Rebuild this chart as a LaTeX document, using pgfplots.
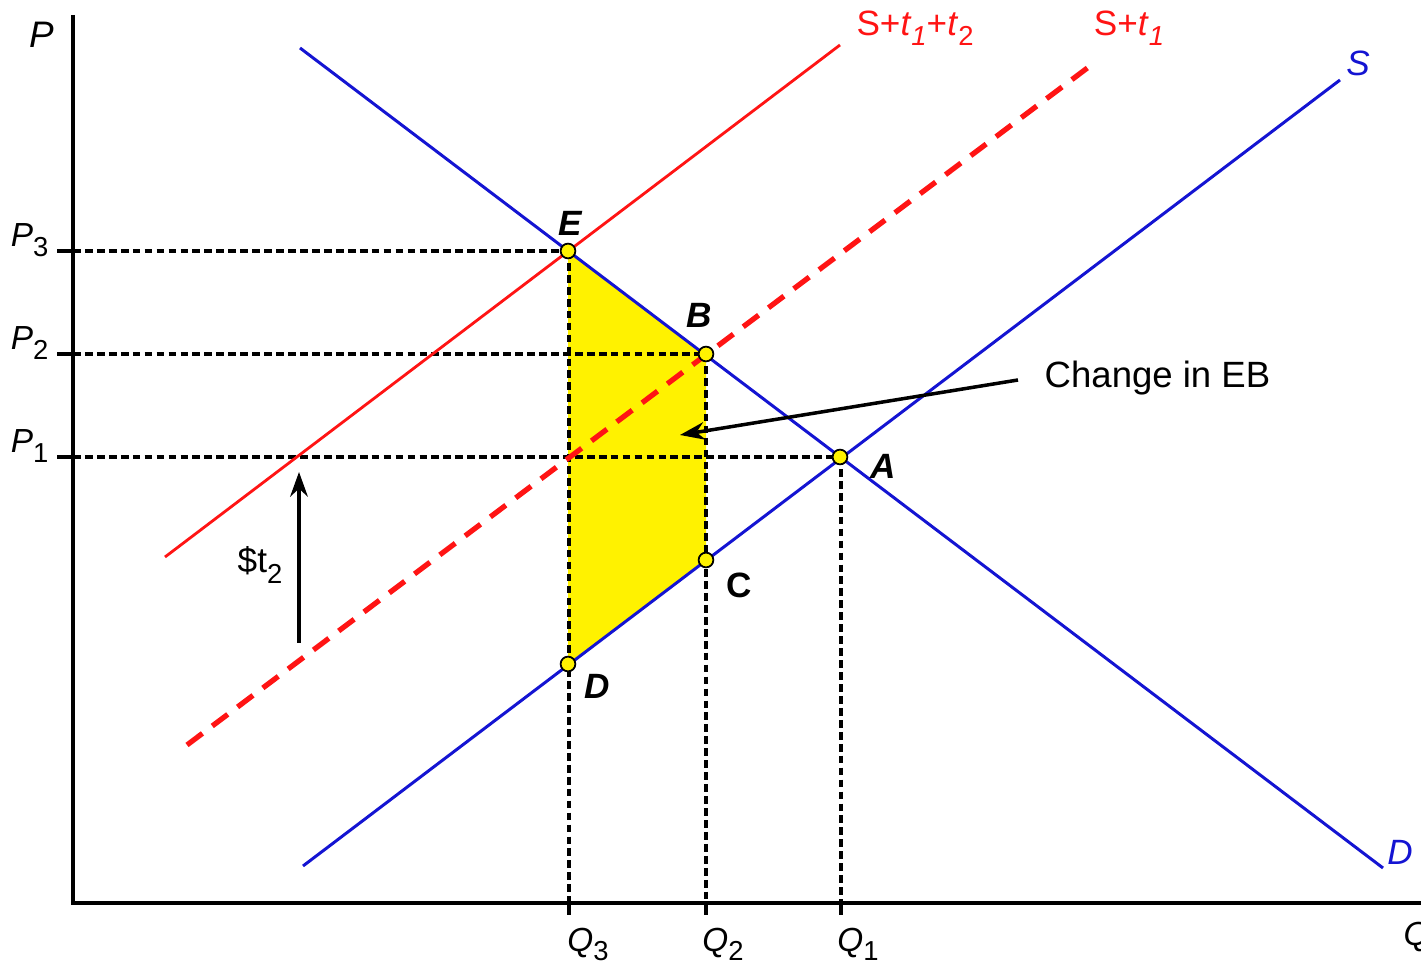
\documentclass[border=0pt]{standalone}
\usepackage{pgfplots}
\pgfplotsset{compat=1.18}
\usepackage{fontspec}
\setmainfont{Liberation Sans}
\setsansfont{Liberation Sans}
\usetikzlibrary{arrows.meta}
\definecolor{curveblue}{RGB}{20,20,210}
\definecolor{curvered}{RGB}{255,20,20}
\newcommand{\sub}[1]{\raisebox{-0.55ex}{\fontsize{7.8}{8}\selectfont #1}}
\tikzset{guide/.style={black, line width=0.9pt, dash pattern=on 2.2pt off 1.2pt}}
\begin{document}
\begin{tikzpicture}
\begin{axis}[
  scale only axis, width=14.21cm, height=9.67cm,
  xmin=0, xmax=1421, ymin=0, ymax=967,
  hide axis, clip=false,
]
% welfare loss area E-B-C-D
\addplot[fill=yellow, draw=none] coordinates {(568,716) (706,613) (706,407) (568,303)} -- cycle;

% price and quantity guide lines
\addplot[guide] coordinates {(73,716) (568,716)};
\addplot[guide] coordinates {(73,613) (706,613)};
\addplot[guide] coordinates {(73,510) (840,510)};
\addplot[guide] coordinates {(569,716) (569,64)};
\addplot[guide] coordinates {(706,613) (706,64)};
\addplot[guide] coordinates {(841,510) (841,64)};
% small ticks
\addplot[black, line width=0.9pt] coordinates {(57,716) (73,716)};
\addplot[black, line width=0.9pt] coordinates {(57,613) (73,613)};
\addplot[black, line width=0.9pt] coordinates {(57,510) (73,510)};
\addplot[black, line width=0.9pt] coordinates {(569,64) (569,52)};
\addplot[black, line width=0.9pt] coordinates {(706,64) (706,52)};
\addplot[black, line width=0.9pt] coordinates {(841,64) (841,52)};

% demand and supply
\addplot[curveblue, line width=0.85pt] coordinates {(300,919) (1383,99)};
\addplot[curveblue, line width=0.85pt] coordinates {(303,101) (1340,887)};
% supply with taxes
\addplot[curvered, line width=1.5pt, dash pattern=on 5.5pt off 3.5pt] coordinates {(187,222) (1090,901)};
\addplot[curvered, line width=0.8pt] coordinates {(165,410) (840,922)};

% axes
\addplot[black, line width=1pt] coordinates {(73,952) (73,64) (1430,64)};

% arrows
\addplot[black, line width=1pt, -{Stealth[length=7pt,width=5pt]}] coordinates {(1018,587) (680,532)};
\addplot[black, line width=1.1pt, -{Stealth[length=7pt,width=5pt]}] coordinates {(299,324) (299,495)};

% points
\addplot[only marks, mark=*, mark size=2.1pt, mark options={fill=yellow, draw=black, line width=0.5pt}]
  coordinates {(568,716) (706,613) (840,510) (706,407) (568,303)};

% labels
\node at (axis cs:42,932) {\fontsize{10.5}{12}\selectfont\itshape P};
\node[anchor=base east, inner sep=0pt] at (axis cs:49,720) {\fontsize{9.5}{11}\selectfont\itshape P\sub{\upshape 3}};
\node[anchor=base east, inner sep=0pt] at (axis cs:49,617) {\fontsize{9.5}{11}\selectfont\itshape P\sub{\upshape 2}};
\node[anchor=base east, inner sep=0pt] at (axis cs:49,514) {\fontsize{9.5}{11}\selectfont\itshape P\sub{\upshape 1}};
\node[anchor=base] at (axis cs:588,16) {\fontsize{9.5}{11}\selectfont\itshape Q\sub{\upshape 3}};
\node[anchor=base] at (axis cs:723,16) {\fontsize{9.5}{11}\selectfont\itshape Q\sub{\upshape 2}};
\node[anchor=base] at (axis cs:858,16) {\fontsize{9.5}{11}\selectfont\itshape Q\sub{\upshape 1}};
\node[anchor=base west, inner sep=0pt] at (axis cs:1403,22) {\fontsize{9.5}{11}\selectfont\itshape Q};

\node[curvered] at (axis cs:915,939) {\fontsize{10}{12}\selectfont S+\textit{t}\sub{\itshape 1}+\textit{t}\sub{2}};
\node[curvered] at (axis cs:1129,939) {\fontsize{10}{12}\selectfont S+\textit{t}\sub{\itshape 1}};
\node[curveblue] at (axis cs:1358,904) {\fontsize{10}{12}\selectfont\itshape S};
\node[curveblue] at (axis cs:1400,115) {\fontsize{10}{12}\selectfont\itshape D};

\node at (axis cs:570,744) {\fontsize{10}{12}\selectfont\bfseries\itshape E};
\node at (axis cs:699,652) {\fontsize{10}{12}\selectfont\bfseries\itshape B};
\node at (axis cs:883,501) {\fontsize{10}{12}\selectfont\bfseries\itshape A};
\node at (axis cs:739,382) {\fontsize{10}{12}\selectfont\bfseries C};
\node at (axis cs:597,281) {\fontsize{10}{12}\selectfont\bfseries\itshape D};

\node at (axis cs:260,402) {\fontsize{10}{12}\selectfont \$t\sub{2}};
\node[anchor=west, inner sep=0pt] at (axis cs:1044,589) {\fontsize{10.4}{12}\selectfont Change in EB};

\coordinate (bl) at (axis cs:0,0);
\coordinate (tr) at (axis cs:1421,967);
\end{axis}
\pgfresetboundingbox
\useasboundingbox (bl) rectangle (tr);
\end{tikzpicture}
\end{document}
